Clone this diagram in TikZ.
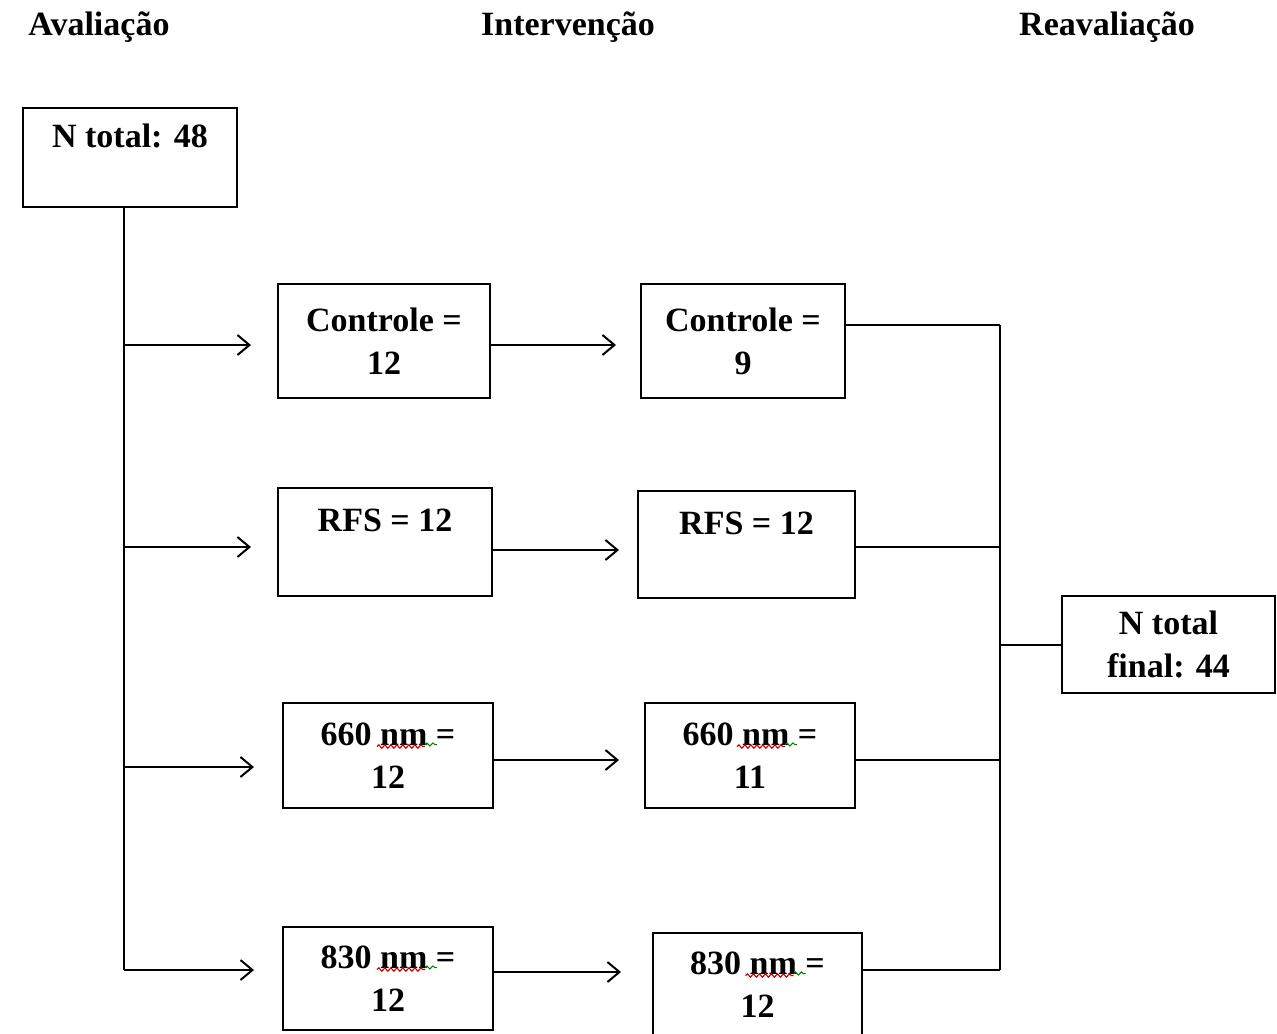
\documentclass[tikz,border=0pt]{standalone}
\usepackage{fontspec}
\setmainfont{Liberation Serif}
\usepackage{tikz}
\usetikzlibrary{arrows.meta,calc,decorations.pathmorphing}
\tikzstyle{flowbox} = [rectangle, draw=black, line width=1pt, inner sep=0pt, align=center, font=\fontsize{17}{21.5}\selectfont\bfseries]
\tikzstyle{head} = [font=\fontsize{17}{20}\selectfont\bfseries]
\tikzstyle{conn} = [line width=1pt]
\tikzstyle{arrow} = [line width=1pt,-{Straight Barb[length=6pt,width=10pt,line width=1pt]}]
\tikzstyle{squig} = [red!80!black, line width=0.6pt, decorate, decoration={snake, amplitude=0.8pt, segment length=3pt}]
\tikzstyle{squigtail} = [green!50!black, line width=0.5pt, decorate, decoration={snake, amplitude=0.8pt, segment length=3pt}]

\begin{document}
\begin{tikzpicture}[x=0.5pt, y=-0.5pt]
    \useasboundingbox (0,0) rectangle (1277,1033);
    \clip (0,0) rectangle (1277,1033);
    % column titles
    \node[head] (hEval) at (99,27) {Avaliação};
    \node[head] (hInterv) at (568,27) {Intervenção};
    \node[head] (hReeval) at (1107,27) {Reavaliação};
    % boxes
    \node[flowbox, minimum width=107pt, minimum height=49.5pt] (total) at (130,157.5) {N total: 48\\\mbox{}};
    \node[flowbox, minimum width=106pt, minimum height=57pt] (c1) at (384,341) {Controle =\\12};
    \node[flowbox, minimum width=107pt, minimum height=54pt] (r1) at (385,542) {RFS = 12\\\mbox{}};
    \node[flowbox, minimum width=105pt, minimum height=52.5pt] (s1) at (388,755.5) {660 nm =\\12};
    \node[flowbox, minimum width=105pt, minimum height=51.5pt] (e1) at (388,978.5) {830 nm =\\12};
    \node[flowbox, minimum width=102pt, minimum height=57pt] (c2) at (743,341) {Controle =\\9};
    \node[flowbox, minimum width=108.5pt, minimum height=53.5pt] (r2) at (746.5,544.5) {RFS = 12\\\mbox{}};
    \node[flowbox, minimum width=105pt, minimum height=52.5pt] (s2) at (750,755.5) {660 nm =\\11};
    \node[flowbox, minimum width=104.5pt, minimum height=51.5pt] (e2) at (757.5,984.5) {830 nm =\\12};
    \node[flowbox, minimum width=106.5pt, minimum height=48.5pt] (final) at (1168.5,644.5) {N total\\final: 44};
    % spelling marks under nm
    \foreach \b/\dx in {s1/-11, e1/-11, s2/-13, e2/-12}{
        \draw[squig] ($(\b.center)+(\dx,-9)$) -- ++(48,0);
        \draw[squigtail] ($(\b.center)+(\dx,-9)+(48,-2)$) -- ++(12,0);
    }
    % trunk and branches
    \coordinate (trunk) at (124,970);
    \coordinate (bus) at (1000,643);
    \draw[conn] (total.south -| trunk) -- (trunk);
    \foreach \b/\dy/\gap in {c1/4/13pt, r1/5/13pt, s1/11.5/14pt, e1/-8.5/14pt}{
        \coordinate (\b i) at ($(\b.west)+(0,\dy)$);
        \draw[arrow, shorten >=\gap] (trunk |- \b i) -- (\b i);
    }
    \foreach \a/\b/\dy/\gap in {c1/c2/4/12pt, r1/r2/8/9pt, s1/s2/4.5/12.5pt, e1/e2/-6.5/15.5pt}{
        \coordinate (\a o) at ($(\a.east)+(0,\dy)$);
        \draw[arrow, shorten >=\gap] (\a o) -- (\a o -| \b.west);
    }
    \foreach \b/\dy in {c2/-16, r2/2.5, s2/4.5, e2/-14.5}{
        \coordinate (\b o) at ($(\b.east)+(0,\dy)$);
        \draw[conn] (\b o) -- (\b o -| bus);
    }
    \draw[conn] (bus |- c2o) -- (bus |- e2o);
    \draw[conn] (bus |- final.west) -- (final.west);
\end{tikzpicture}
\end{document}
